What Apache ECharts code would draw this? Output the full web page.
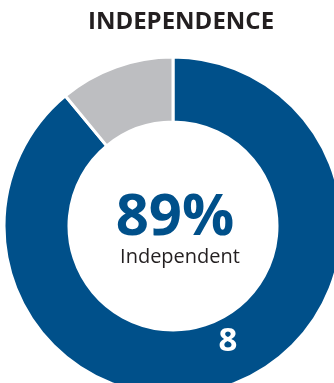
<!DOCTYPE html>
<html>
<head>
<meta charset="utf-8">
<script src="https://cdn.jsdelivr.net/npm/echarts@6/dist/echarts.min.js"></script>
<style>
  html, body { margin: 0; padding: 0; background: #ffffff; }
  #chart { width: 334px; height: 383px; }
</style>
</head>
<body>
<div id="chart"></div>
<script>
// Share of respondents by status
const categories = ['Independent', 'Not independent'];
const shares = [89, 11];
const sliceColors = ['#00508A', '#BDBEC1'];
const chartTitle = 'INDEPENDENCE';
const headlineLabel = 'Independent';
const sliceLabelText = '8';

const chart = echarts.init(document.getElementById('chart'), null, { renderer: 'canvas' });

const cx = 173, cy = 226;

chart.setOption({
  animation: false,
  title: {
    text: chartTitle,
    left: 176,
    top: 5,
    textAlign: 'center',
    textStyle: {
      fontFamily: 'Open Sans',
      fontWeight: 'bold',
      fontSize: 24,
      color: '#231F20'
    }
  },
  series: [{
    type: 'pie',
    center: [cx, cy],
    radius: [104, 169],
    startAngle: 90,
    clockwise: true,
    silent: true,
    label: { show: false },
    labelLine: { show: false },
    itemStyle: { borderColor: '#ffffff', borderWidth: 3 },
    data: categories.map((name, i) => ({
      name: name,
      value: shares[i],
      itemStyle: { color: sliceColors[i] }
    }))
  }],
  graphic: [
    {
      type: 'text',
      z: 100,
      x: 175, y: 218,
      style: {
        text: shares[0] + '%',
        fontFamily: 'Open Sans',
        fontWeight: 'bold',
        fontSize: 58,
        fill: '#00508A',
        align: 'center',
        verticalAlign: 'middle'
      }
    },
    {
      type: 'text',
      z: 100,
      x: 180, y: 257,
      style: {
        text: headlineLabel,
        fontFamily: 'Open Sans',
        fontSize: 20,
        fill: '#231F20',
        align: 'center',
        verticalAlign: 'middle'
      }
    },
    {
      type: 'text',
      z: 100,
      x: 228, y: 342,
      style: {
        text: sliceLabelText,
        fontFamily: 'Open Sans',
        fontWeight: 'bold',
        fontSize: 33,
        fill: '#ffffff',
        align: 'center',
        verticalAlign: 'middle'
      }
    }
  ]
});
</script>
</body>
</html>
